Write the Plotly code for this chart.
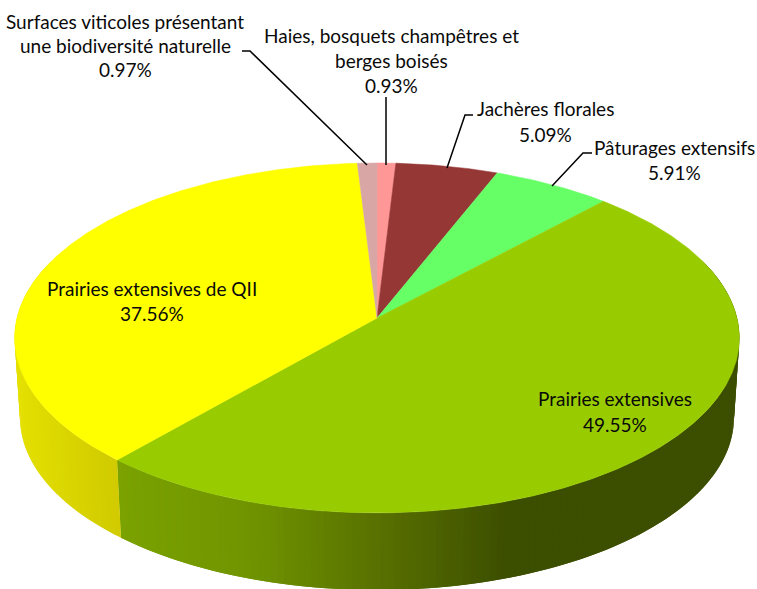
import numpy as np
import plotly.graph_objects as go

# --- data ---
categories = ["Haies, bosquets champêtres et berges boisés", "Jachères florales", "Pâturages extensifs",
              "Prairies extensives", "Prairies extensives de QII",
              "Surfaces viticoles présentant une biodiversité naturelle"]
values = [0.93, 5.09, 5.91, 49.55, 37.56, 0.97]
colors = ["#FF9797", "#953735", "#66FF66", "#99CC00", "#FFFF00", "#D9A6A6"]

# label text lines and centre positions (pixels)
label_lines = [
    (["Haies, bosquets champêtres et", "berges boisés", "0.93%"], 391, [35, 60, 85]),
    (["Jachères florales", "5.09%"], 545, [108, 134]),
    (["Pâturages extensifs", "5.91%"], 674, [147, 172]),
    (["Prairies extensives", "49.55%"], 615, [398, 424]),
    (["Prairies extensives de QII", "37.56%"], 152, [288, 313]),
    (["Surfaces viticoles présentant", "une biodiversité naturelle", "0.97%"], 125, [21, 45, 69]),
]
leaders = [
    ([386, 386], [97, 165]),
    ([473, 465, 447], [115, 115, 168]),
    ([592, 583, 552], [153, 153, 186]),
    ([242, 250, 367], [51, 51, 165]),
]

# --- projection of the disc ---
CX, CY, R, B, K = 377.0, 318.0, 360.0, 172.7, 0.114
DEPTH_Y, DEPTH_S = 80.0, 0.985

def project(theta, bottom=False):
    u, v = np.sin(theta), -np.cos(theta)
    w = 1 - K * v
    s = DEPTH_S if bottom else 1.0
    off = DEPTH_Y if bottom else 0.0
    return CX + s * R * u / w, CY + off + s * B * v / w

def mix(c1, c2, t):
    return tuple(a + (b - a) * t for a, b in zip(c1, c2))

def side_colour(idx, x):
    if colors[idx] == "#FFFF00":
        stops = [(15, (228, 224, 0)), (118, (208, 202, 0))]
    elif colors[idx] == "#99CC00":
        stops = [(118, (122, 162, 0)), (250, (112, 148, 0)), (380, (88, 112, 0)), (510, (60, 78, 0)), (760, (60, 78, 0))]
    else:
        stops = [(0, (120, 120, 120)), (760, (120, 120, 120))]
    for (x0, c0), (x1, c1) in zip(stops, stops[1:]):
        if x <= x1:
            c = mix(c0, c1, max(0, (x - x0) / (x1 - x0)))
            break
    else:
        c = stops[-1][1]
    return "rgb(%d,%d,%d)" % tuple(round(v) for v in c)

fig = go.Figure()
bounds = np.concatenate([[0], np.cumsum(values)]) / sum(values) * 2 * np.pi

# side wall: narrow strips, each overlapping the next so no seams show
for i in range(len(values)):
    a0, a1 = max(bounds[i], np.radians(70)), min(bounds[i + 1], np.radians(290))
    if a1 <= a0:
        continue
    edges = np.linspace(a0, a1, int((a1 - a0) / np.radians(1.0)) + 2)
    for j in range(len(edges) - 1):
        t = edges[j:min(j + 3, len(edges))]
        xt, yt = project(t)
        xb, yb = project(t[::-1], bottom=True)
        xm = (project(edges[j])[0] + project(edges[j + 1])[0]) / 2
        col = side_colour(i, xm)
        fig.add_trace(go.Scatter(
            x=np.r_[xt, xb, xt[0]], y=np.r_[yt, yb, yt[0]], mode="lines", fill="toself",
            fillcolor=col, line=dict(width=0), hoverinfo="skip", showlegend=False))

# top face
for i, name in enumerate(categories):
    t = np.linspace(bounds[i], bounds[i + 1], max(3, int(values[i] * 8)))
    xr, yr = project(t)
    fig.add_trace(go.Scatter(
        x=np.r_[CX, xr, CX], y=np.r_[CY, yr, CY], mode="lines", fill="toself", name=name,
        fillcolor=colors[i], line=dict(color=colors[i], width=0.5), hoverinfo="name", showlegend=False))

# leader lines
for lx, ly in leaders:
    fig.add_trace(go.Scatter(x=lx, y=ly, mode="lines", line=dict(color="#000000", width=1.5),
                             hoverinfo="skip", showlegend=False))

# labels
for lines, x, ys in label_lines:
    for text, y in zip(lines, ys):
        fig.add_annotation(x=x, y=y, text=text, showarrow=False, xanchor="center", yanchor="middle",
                           font=dict(family="Lato", size=19, color="#0a0a0a"))

fig.update_xaxes(range=[0, 757], visible=False)
fig.update_yaxes(range=[589, 0], visible=False)
fig.update_layout(width=757, height=589, margin=dict(l=0, r=0, t=0, b=0),
                  paper_bgcolor="white", plot_bgcolor="white")
fig.write_html("out.html", config={"displayModeBar": False},
               post_script="document.body.style.margin='0';document.body.style.overflow='hidden';")
